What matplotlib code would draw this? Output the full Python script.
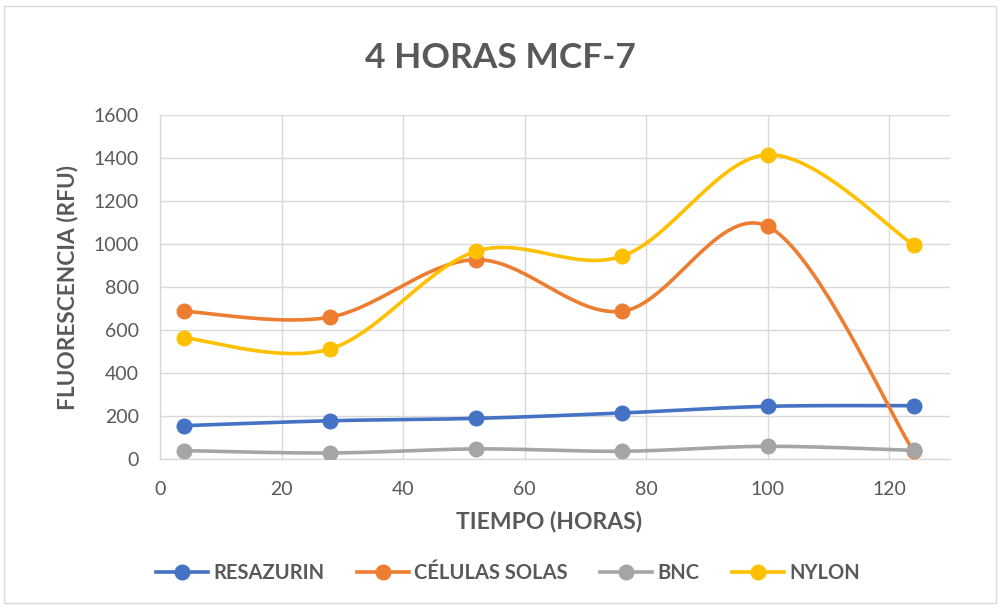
import numpy as np
import matplotlib
matplotlib.use("Agg")
import matplotlib.pyplot as plt
from matplotlib.lines import Line2D
from matplotlib.patches import Rectangle

tiempo = [4, 28, 52, 76, 100, 124]
resazurin = [155, 178, 189, 214, 245, 248]
celulas_solas = [687, 660, 927, 687, 1082, 36]
bnc = [39, 28, 47, 36, 59, 40]
nylon = [563, 512, 966, 943, 1415, 997]

series_names = ["RESAZURIN", "CÉLULAS SOLAS", "BNC", "NYLON"]
series_vals = [resazurin, celulas_solas, bnc, nylon]
colors = ["#4472C4", "#ED7D31", "#A5A5A5", "#FFC000"]

x_ticks = [0, 20, 40, 60, 80, 100, 120]
y_ticks = [0, 200, 400, 600, 800, 1000, 1200, 1400, 1600]

FONT = ["Lato", "DejaVu Sans"]
TXT = "#595959"


def smooth(xs, ys, n=40):
    xs = np.asarray(xs, float)
    ys = np.asarray(ys, float)
    px = np.concatenate([[xs[0]], xs, [xs[-1]]])
    py = np.concatenate([[ys[0]], ys, [ys[-1]]])
    outx, outy = [], []
    t = np.linspace(0, 1, n)
    for i in range(1, len(px) - 2):
        p0 = np.array([px[i], py[i]])
        p3 = np.array([px[i + 1], py[i + 1]])
        p1 = p0 + (np.array([px[i + 1], py[i + 1]]) - np.array([px[i - 1], py[i - 1]])) / 6
        p2 = p3 - (np.array([px[i + 2], py[i + 2]]) - np.array([px[i], py[i]])) / 6
        b = ((1 - t) ** 3)[:, None] * p0 + (3 * (1 - t) ** 2 * t)[:, None] * p1 \
            + (3 * (1 - t) * t ** 2)[:, None] * p2 + (t ** 3)[:, None] * p3
        outx.extend(b[:, 0])
        outy.extend(b[:, 1])
    return outx, outy


fig = plt.figure(figsize=(10.01, 6.09), dpi=100)
fig.patches.append(Rectangle((4 / 1001, 1 - 603 / 609), 992 / 1001, 597 / 609,
                             transform=fig.transFigure, fill=False,
                             edgecolor="#D9D9D9", linewidth=1.0))

W, H = 1001, 609
left, right, top, bottom = 160, 950, 115, 459
ax = fig.add_axes([left / W, 1 - bottom / H, (right - left) / W, (bottom - top) / H])

for name, vals, c in zip(series_names, series_vals, colors):
    sx, sy = smooth(tiempo, vals)
    ax.plot(sx, sy, color=c, linewidth=2.6, solid_capstyle="round", zorder=3)
    ax.plot(tiempo, vals, linestyle="none", marker="o", markersize=10.5,
            color=c, zorder=4)

ax.set_xlim(0, 130)
ax.set_ylim(0, 1600)
ax.set_xticks(x_ticks)
ax.set_yticks(y_ticks)
ax.grid(True, color="#D9D9D9", linewidth=1.0)
ax.set_axisbelow(True)
for s in ["top", "right"]:
    ax.spines[s].set_visible(False)
for s in ["left", "bottom"]:
    ax.spines[s].set_color("#D9D9D9")
    ax.spines[s].set_linewidth(1.0)
ax.tick_params(length=0, colors=TXT, labelsize=14)
ax.tick_params(axis="y", pad=15)
ax.tick_params(axis="x", pad=16)
for lab in ax.get_xticklabels() + ax.get_yticklabels():
    lab.set_family(FONT)

fig.text(0.5, 1 - 58 / H, "4 HORAS MCF-7", ha="center", va="center",
         fontsize=25.5, fontweight="bold", color=TXT, family=FONT)
fig.text(68 / W, 1 - 287 / H, "FLUORESCENCIA (RFU)", ha="center", va="center",
         rotation=90, fontsize=16.3, fontweight="bold", color=TXT, family=FONT)
fig.text(549 / W, 1 - 521 / H, "TIEMPO (HORAS)", ha="center", va="center",
         fontsize=16.5, fontweight="bold", color=TXT, family=FONT)

handles = [Line2D([0], [0], color=c, linewidth=2.6, marker="o", markersize=10.5)
           for c in colors]
leg = fig.legend(handles, series_names, loc="center", bbox_to_anchor=(508 / W, 1 - 573 / H),
                 ncol=4, frameon=False, handlelength=2.6, columnspacing=1.6,
                 handletextpad=0.25,
                 prop={"family": FONT, "weight": "bold", "size": 14.5})
for t in leg.get_texts():
    t.set_color(TXT)

fig.savefig("out.png", dpi=100)
